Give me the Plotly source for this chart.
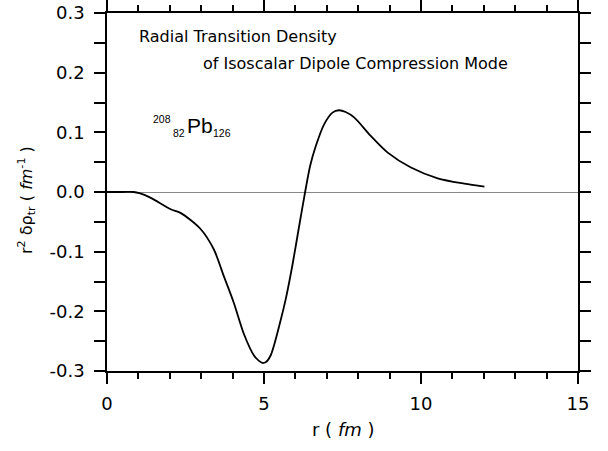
import plotly.graph_objects as go

r_vals = [0.0, 0.5, 0.85, 1.03, 1.38, 2.03, 2.34, 2.98, 3.40, 3.72, 4.04, 4.36, 4.68, 4.84, 4.95, 5.05,
          5.21, 5.53, 5.69, 5.90, 6.12, 6.31, 6.47, 6.65, 6.91, 7.18, 7.39, 7.6, 7.87, 8.40, 8.94, 9.68,
          10.53, 11.38, 12.02]
rho_vals = [0.0, 0.0, 0.0, -0.002, -0.0095, -0.029, -0.035, -0.062, -0.096, -0.141, -0.186, -0.238, -0.274,
            -0.283, -0.2865, -0.2855, -0.274, -0.215, -0.180, -0.124, -0.057, 0.0, 0.044, 0.077, 0.113, 0.133,
            0.137, 0.134, 0.125, 0.094, 0.066, 0.041, 0.023, 0.014, 0.009]

x_ticks = [0, 5, 10, 15]
y_ticks = [-0.3, -0.2, -0.1, 0.0, 0.1, 0.2, 0.3]
y_tick_text = ["-0.3", "-0.2", "-0.1", "0.0", "0.1", "0.2", "0.3"]

fig = go.Figure()
fig.add_trace(go.Scatter(x=r_vals, y=rho_vals, mode="lines",
                         line=dict(color="black", width=1.8, shape="spline", smoothing=0.8),
                         showlegend=False, hoverinfo="skip"))
# invisible copy on the top axis so that it gets drawn with its ticks
fig.add_trace(go.Scatter(x=r_vals, y=rho_vals, mode="lines", xaxis="x2",
                         line=dict(color="rgba(0,0,0,0)", width=0),
                         showlegend=False, hoverinfo="skip"))

tick_font = dict(family="DejaVu Sans, sans-serif", size=18, color="black")
axis_common = dict(showline=True, linecolor="black", linewidth=1.5,
                   ticks="outside", ticklen=11, tickwidth=1.5, tickcolor="black",
                   showgrid=False, tickfont=tick_font, automargin=False)
minor_x = dict(dtick=1, ticklen=6, ticks="outside", tickcolor="black", tickwidth=1.5)
minor_y = dict(dtick=0.05, ticklen=6, ticks="outside", tickcolor="black", tickwidth=1.5)

fig.update_layout(
    xaxis=dict(range=[0, 15], tickvals=x_ticks, zeroline=False, ticklabelstandoff=5, mirror="allticks",
               minor=minor_x, **axis_common),
    xaxis2=dict(range=[0, 15], tickvals=x_ticks, zeroline=False, overlaying="x", side="top",
                showticklabels=False, anchor="y", minor=minor_x, **axis_common),
    yaxis=dict(range=[-0.3, 0.3], tickvals=y_ticks, ticktext=y_tick_text, ticklabelstandoff=6,
               zeroline=True, zerolinecolor="#888888", zerolinewidth=1, mirror="allticks",
               minor=minor_y, **axis_common),
)

PL, PR, PT, PB = 107, 578, 13, 371   # plot-area pixels in the window
W, H = 608, 451
L, T, R, B = PL, PT, W - PR, H - PB
pw, ph = PR - PL, PB - PT

def px(x, y):
    return (x - PL) / pw, 1 - (y - PT) / ph

def add_text(x, y, text, size, family="DejaVu Sans, sans-serif", xanchor="left", angle=0):
    xx, yy = px(x, y)
    fig.add_annotation(x=xx, y=yy, xref="paper", yref="paper", text=text, showarrow=False,
                       font=dict(family=family, size=size, color="black"),
                       xanchor=xanchor, yanchor="middle", textangle=angle)

add_text(137, 36, "Radial Transition Density", 16)
add_text(201, 63, "of Isoscalar Dipole Compression Mode", 16)

arial = "Liberation Sans, Arial, sans-serif"
add_text(151, 119, "208", 10.5, family=arial)
add_text(171, 133, "82", 10.5, family=arial)
add_text(185, 126, "Pb", 21, family=arial)
add_text(211, 133, "126", 10.5, family=arial)

add_text(343, 430, "r ( <i>fm</i> )", 18, xanchor="center")
add_text(26, 200, "r<sup>2</sup> δρ<sub>tr</sub> ( <i>fm</i><sup>-1</sup> )", 16, xanchor="center", angle=-90)

fig.update_layout(width=W, height=H, margin=dict(l=L, r=R, t=T, b=B),
                  plot_bgcolor="white", paper_bgcolor="white",
                  font=dict(family="DejaVu Sans, sans-serif", color="black"))

fig.write_html("out.html", config={"displayModeBar": False},
               post_script="document.body.style.margin='0';document.body.style.overflow='hidden';")
